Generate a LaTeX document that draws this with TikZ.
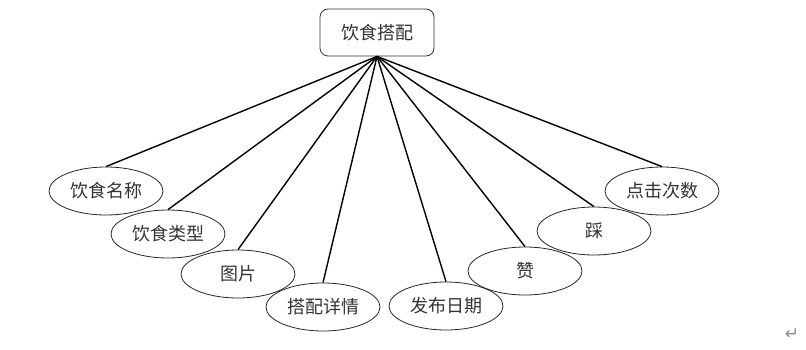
\documentclass[tikz,border=0pt]{standalone}
\usepackage{fontspec}
\newfontfamily\cjk{Noto Sans CJK SC}
\newfontfamily\symfont{DejaVu Sans}
\usetikzlibrary{shapes.geometric}
\begin{document}
\begin{tikzpicture}[x=1pt,y=-1pt,font=\cjk\fontsize{18}{20}\selectfont,
  attr/.style={ellipse,draw=black!85,line width=0.8pt,minimum width=114pt,
    minimum height=48pt,inner sep=0pt,text=black!80},
  link/.style={line width=1.4pt}]
  \useasboundingbox (0,0) rectangle (806,350);
  \node[draw=black!80,line width=0.8pt,rounded corners=8pt,minimum width=114pt,
    minimum height=47pt,inner sep=0pt,text=black!80] (root) at (377,32.5) {饮食搭配};
  \node[attr] (name) at (106,191) {饮食名称};
  \node[attr] (type) at (168,234) {饮食类型};
  \node[attr] (pic) at (238,274) {图片};
  \node[attr] (detail) at (323,307) {搭配详情};
  \node[attr] (date) at (446,306) {发布日期};
  \node[attr] (like) at (525,271) {赞};
  \node[attr] (dislike) at (594,231) {踩};
  \node[attr] (clicks) at (662,191) {点击次数};
  \foreach \n in {name,type,pic,detail,date,like,dislike,clicks}
    \draw[link] (root.south) -- (\n.north);
  \node[font=\symfont\fontsize{17}{17}\selectfont,text=black!45] (mark) at (792,334) {↵};
\end{tikzpicture}
\end{document}
